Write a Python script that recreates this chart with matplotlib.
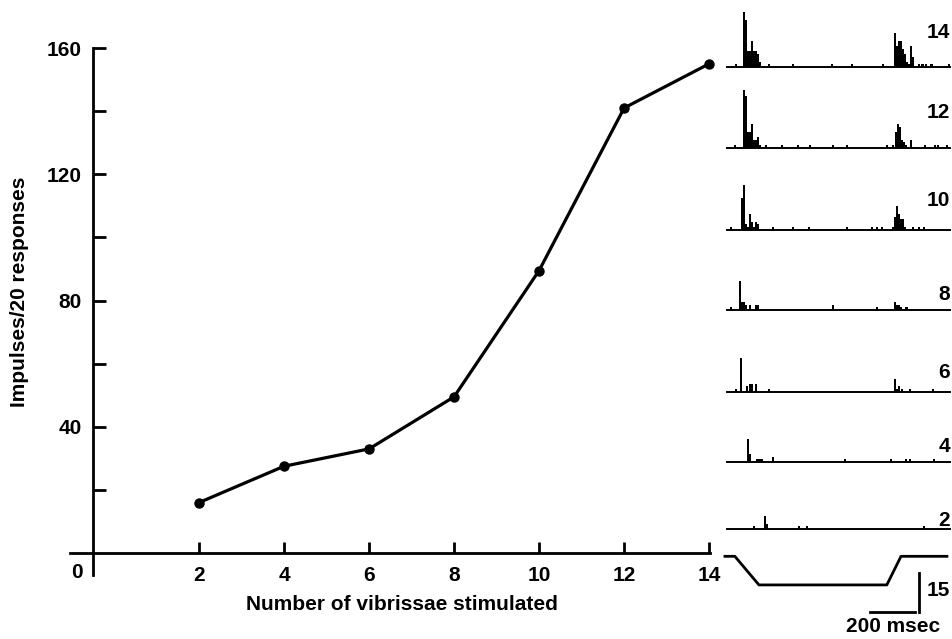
##impulses vs number of vibrissae, with PSTHs on the right
import numpy as np
import matplotlib.pyplot as plt

plt.rcParams['font.family'] = ['Liberation Sans', 'DejaVu Sans']
plt.rcParams['font.weight'] = 'bold'

##main graph data
n_vibrissae = [2, 4, 6, 8, 10, 12, 14]
impulses = [16, 27.5, 33, 49.5, 89.5, 141, 155]
y_major = [40, 80, 120, 160]
y_minor = [20, 60, 100, 140]
x_ticks = [2, 4, 6, 8, 10, 12, 14]

##PSTHs: bin start (msec) and count, one per number of vibrissae
psth_labels = ['14', '12', '10', '8', '6', '4', '2']
t14 = [22, 56, 65, 74, 83, 92, 101, 110, 119, 128, 170, 274, 447, 540, 677,
       728, 737, 746, 755, 764, 773, 782, 791, 800, 809, 836, 851, 866, 891, 970]
n14 = [1, 21, 18, 6, 6, 10, 6, 6, 5, 2, 1, 1, 1, 1, 1,
       13, 8, 10, 10, 7, 5, 2, 1, 8, 4, 1, 1, 1, 1, 1]
t12 = [18, 59, 68, 77, 86, 95, 104, 113, 122, 131, 155, 225, 297, 351, 452, 515, 693, 718,
       733, 742, 751, 760, 769, 778, 802, 862, 906, 921, 958]
n12 = [1, 22, 20, 6, 6, 9, 3, 3, 4, 1, 1, 1, 1, 1, 1, 1, 1, 1,
       6, 9, 8, 3, 2, 1, 3, 1, 1, 1, 1]
t10 = [0, 49, 58, 67, 76, 85, 94, 103, 112, 121, 188, 274, 348, 515, 625, 648, 671,
       720, 729, 738, 747, 756, 765, 774, 807, 836, 859]
n10 = [1, 12, 17, 2, 1, 6, 3, 1, 3, 2, 1, 1, 1, 1, 1, 1, 1,
       1, 5, 9, 6, 4, 4, 1, 1, 1, 1]
t8 = [0, 41, 50, 59, 68, 86, 113, 122, 454, 648, 728, 737, 746, 755, 780]
n8 = [1, 11, 3, 3, 2, 2, 2, 2, 2, 1, 3, 2, 2, 1, 1]
t6 = [22, 46, 73, 85, 94, 113, 171, 728, 737, 746, 760, 797, 898]
n6 = [1, 13, 2, 3, 3, 3, 1, 5, 1, 2, 1, 1, 1]
t4 = [74, 83, 118, 127, 136, 185, 507, 711, 777, 796, 903]
n4 = [9, 3, 1, 1, 1, 2, 1, 1, 1, 1, 1]
t2 = [104, 152, 161, 304, 338, 859]
n2 = [1, 5, 2, 1, 1, 1]
psth_t = [t14, t12, t10, t8, t6, t4, t2]
psth_n = [n14, n12, n10, n8, n6, n4, n2]

##stimulus trace (msec, deflection) and scale bars
stim_t = [-22, 22, 129, 697, 760, 964]
stim_amp = [11, 11, 0, 0, 11, 11]
bar_msec = 200
bar_count = 15

W, H = 953, 639
FS = 15
fig = plt.figure(figsize=(W / 100, H / 100), dpi=100)


def px_axes(left, bottom, width, height):
    # rect in pixels, measured from top left of the figure
    return fig.add_axes([left / W, 1 - bottom / H, width / W, height / H])


##main plot
ax = px_axes(70, 575, 640, 527)
ax.plot(n_vibrissae, impulses, color='black', lw=2.3, marker='o', ms=6.5, clip_on=False)
ax.set_xlim(-1.035, 14.02)
ax.set_ylim(-6.95, 160)
for s in ['top', 'right']:
    ax.spines[s].set_visible(False)
ax.spines['left'].set_position(('data', -0.49))
ax.spines['bottom'].set_position(('data', 0))
for s in ['left', 'bottom']:
    ax.spines[s].set_linewidth(2)
ax.set_yticks(y_major)
ax.set_yticks(y_minor, minor=True)
ax.set_xticks(x_ticks)
ax.tick_params(axis='y', which='both', direction='in', length=9.5, width=2, pad=8, labelsize=FS)
ax.tick_params(axis='x', direction='in', length=8, width=2, pad=9, labelsize=FS)
ax.text(-0.87, -6.3, '0', ha='center', va='center', fontsize=FS)
fig.text(402 / W, 1 - 610 / H, 'Number of vibrissae stimulated', ha='center', va='baseline', fontsize=FS)
fig.text(20 / W, 1 - 292 / H, 'Impulses/20 responses', rotation=90, ha='center', va='center', fontsize=FS)

##PSTHs
baselines = [67, 147.5, 229.5, 310, 391.5, 462, 529]
label_y = [32, 113, 200, 294, 372, 447, 521]
for lab, t, n, b, ly in zip(psth_labels, psth_t, psth_n, baselines, label_y):
    a = px_axes(720, b, 233, 65)
    a.bar(t, n, width=9, align='edge', color='black', linewidth=0)
    a.plot([-13, 978], [0, 0], color='black', lw=1.4, clip_on=False)
    a.set_xlim(-44, 991)
    a.set_ylim(0, 25)
    a.axis('off')
    fig.text(950 / W, 1 - ly / H, lab, ha='right', va='center', fontsize=FS)

##stimulus + scale bars
sa = px_axes(720, 639, 233, 109)
sa.plot(stim_t, np.array(stim_amp) + 20.8, color='black', lw=2)
sa.plot([622, 622 + bar_msec], [10.4, 10.4], color='black', lw=2)
sa.plot([840, 840], [10.4, 10.4 + bar_count], color='black', lw=2)
sa.set_xlim(-44, 991)
sa.set_ylim(0, 109 / 2.6)
sa.axis('off')
fig.text(927 / W, 1 - 590 / H, str(bar_count), ha='left', va='center', fontsize=FS)
fig.text(893 / W, 1 - 627 / H, '%d msec' % bar_msec, ha='center', va='center', fontsize=FS)

fig.savefig('out.png', dpi=100)
